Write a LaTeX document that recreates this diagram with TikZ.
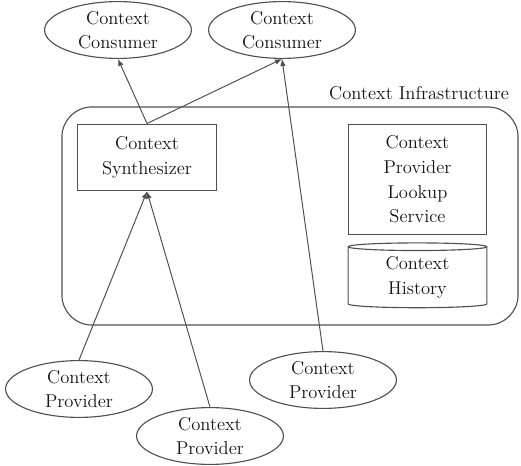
\documentclass[tikz,border=0pt]{standalone}
\usepackage{tikz}
\usetikzlibrary{positioning, arrows.meta, shapes.geometric}
\definecolor{ctxline}{HTML}{505050}
\definecolor{ctxtext}{HTML}{141414}

\begin{document}
\begin{tikzpicture}[
  x=0.025cm, y=-0.025cm,
  font=\fontsize{13.2}{17.5}\selectfont, text=ctxtext,
  actor/.style={
    ellipse, draw=ctxline, line width=0.8pt, inner sep=0pt,
    minimum width=3.67cm, minimum height=1.42cm, align=center
  },
  comp/.style={
    rectangle, draw=ctxline, line width=0.8pt, inner sep=0pt,
    minimum width=3.47cm, align=center
  },
  store/.style={
    cylinder, shape border rotate=90, aspect=0.12, draw=ctxline,
    line width=0.8pt, inner sep=0pt, minimum width=3.47cm,
    minimum height=1.62cm, align=center
  },
  arr/.style={-{Latex[length=5pt,width=4pt]}, line width=0.7pt, color=ctxline},
]
\useasboundingbox (0,0) rectangle (521,466);

% Infrastructure
\node[draw=ctxline, line width=0.8pt, rounded corners=0.75cm,
  minimum width=11.4cm, minimum height=5.45cm] (infra) at (290,216) {};
\node[anchor=base east] (infralabel) at (514,100) {Context Infrastructure};

% Components
\node[comp, minimum height=1.67cm] (synth) at (147,157.5) {Context\\Synthesizer};
\node[comp, minimum height=2.77cm] (lookup) at (417.5,179.5)
  {Context\\Provider\\Lookup\\Service};
\node[store] (history) at (417.5,277.5) {Context\\History};

% Consumers
\node[actor] (cons1) at (118,30) {Context\\Consumer};
\node[actor] (cons2) at (282,30) {Context\\Consumer};

% Providers
\node[actor] (prov1) at (79,389) {Context\\Provider};
\node[actor] (prov2) at (210,436) {Context\\Provider};
\node[actor] (prov3) at (323,380) {Context\\Provider};

% Arrows
\draw[arr] (synth.north) -- (cons1.south);
\draw[arr] (synth.north) -- (cons2.south);
\draw[arr] (prov3.north) -- (cons2.south);
\draw[arr] (prov1.north) -- (synth.south);
\draw[arr] (prov2.north) -- (synth.south);

\end{tikzpicture}
\end{document}
